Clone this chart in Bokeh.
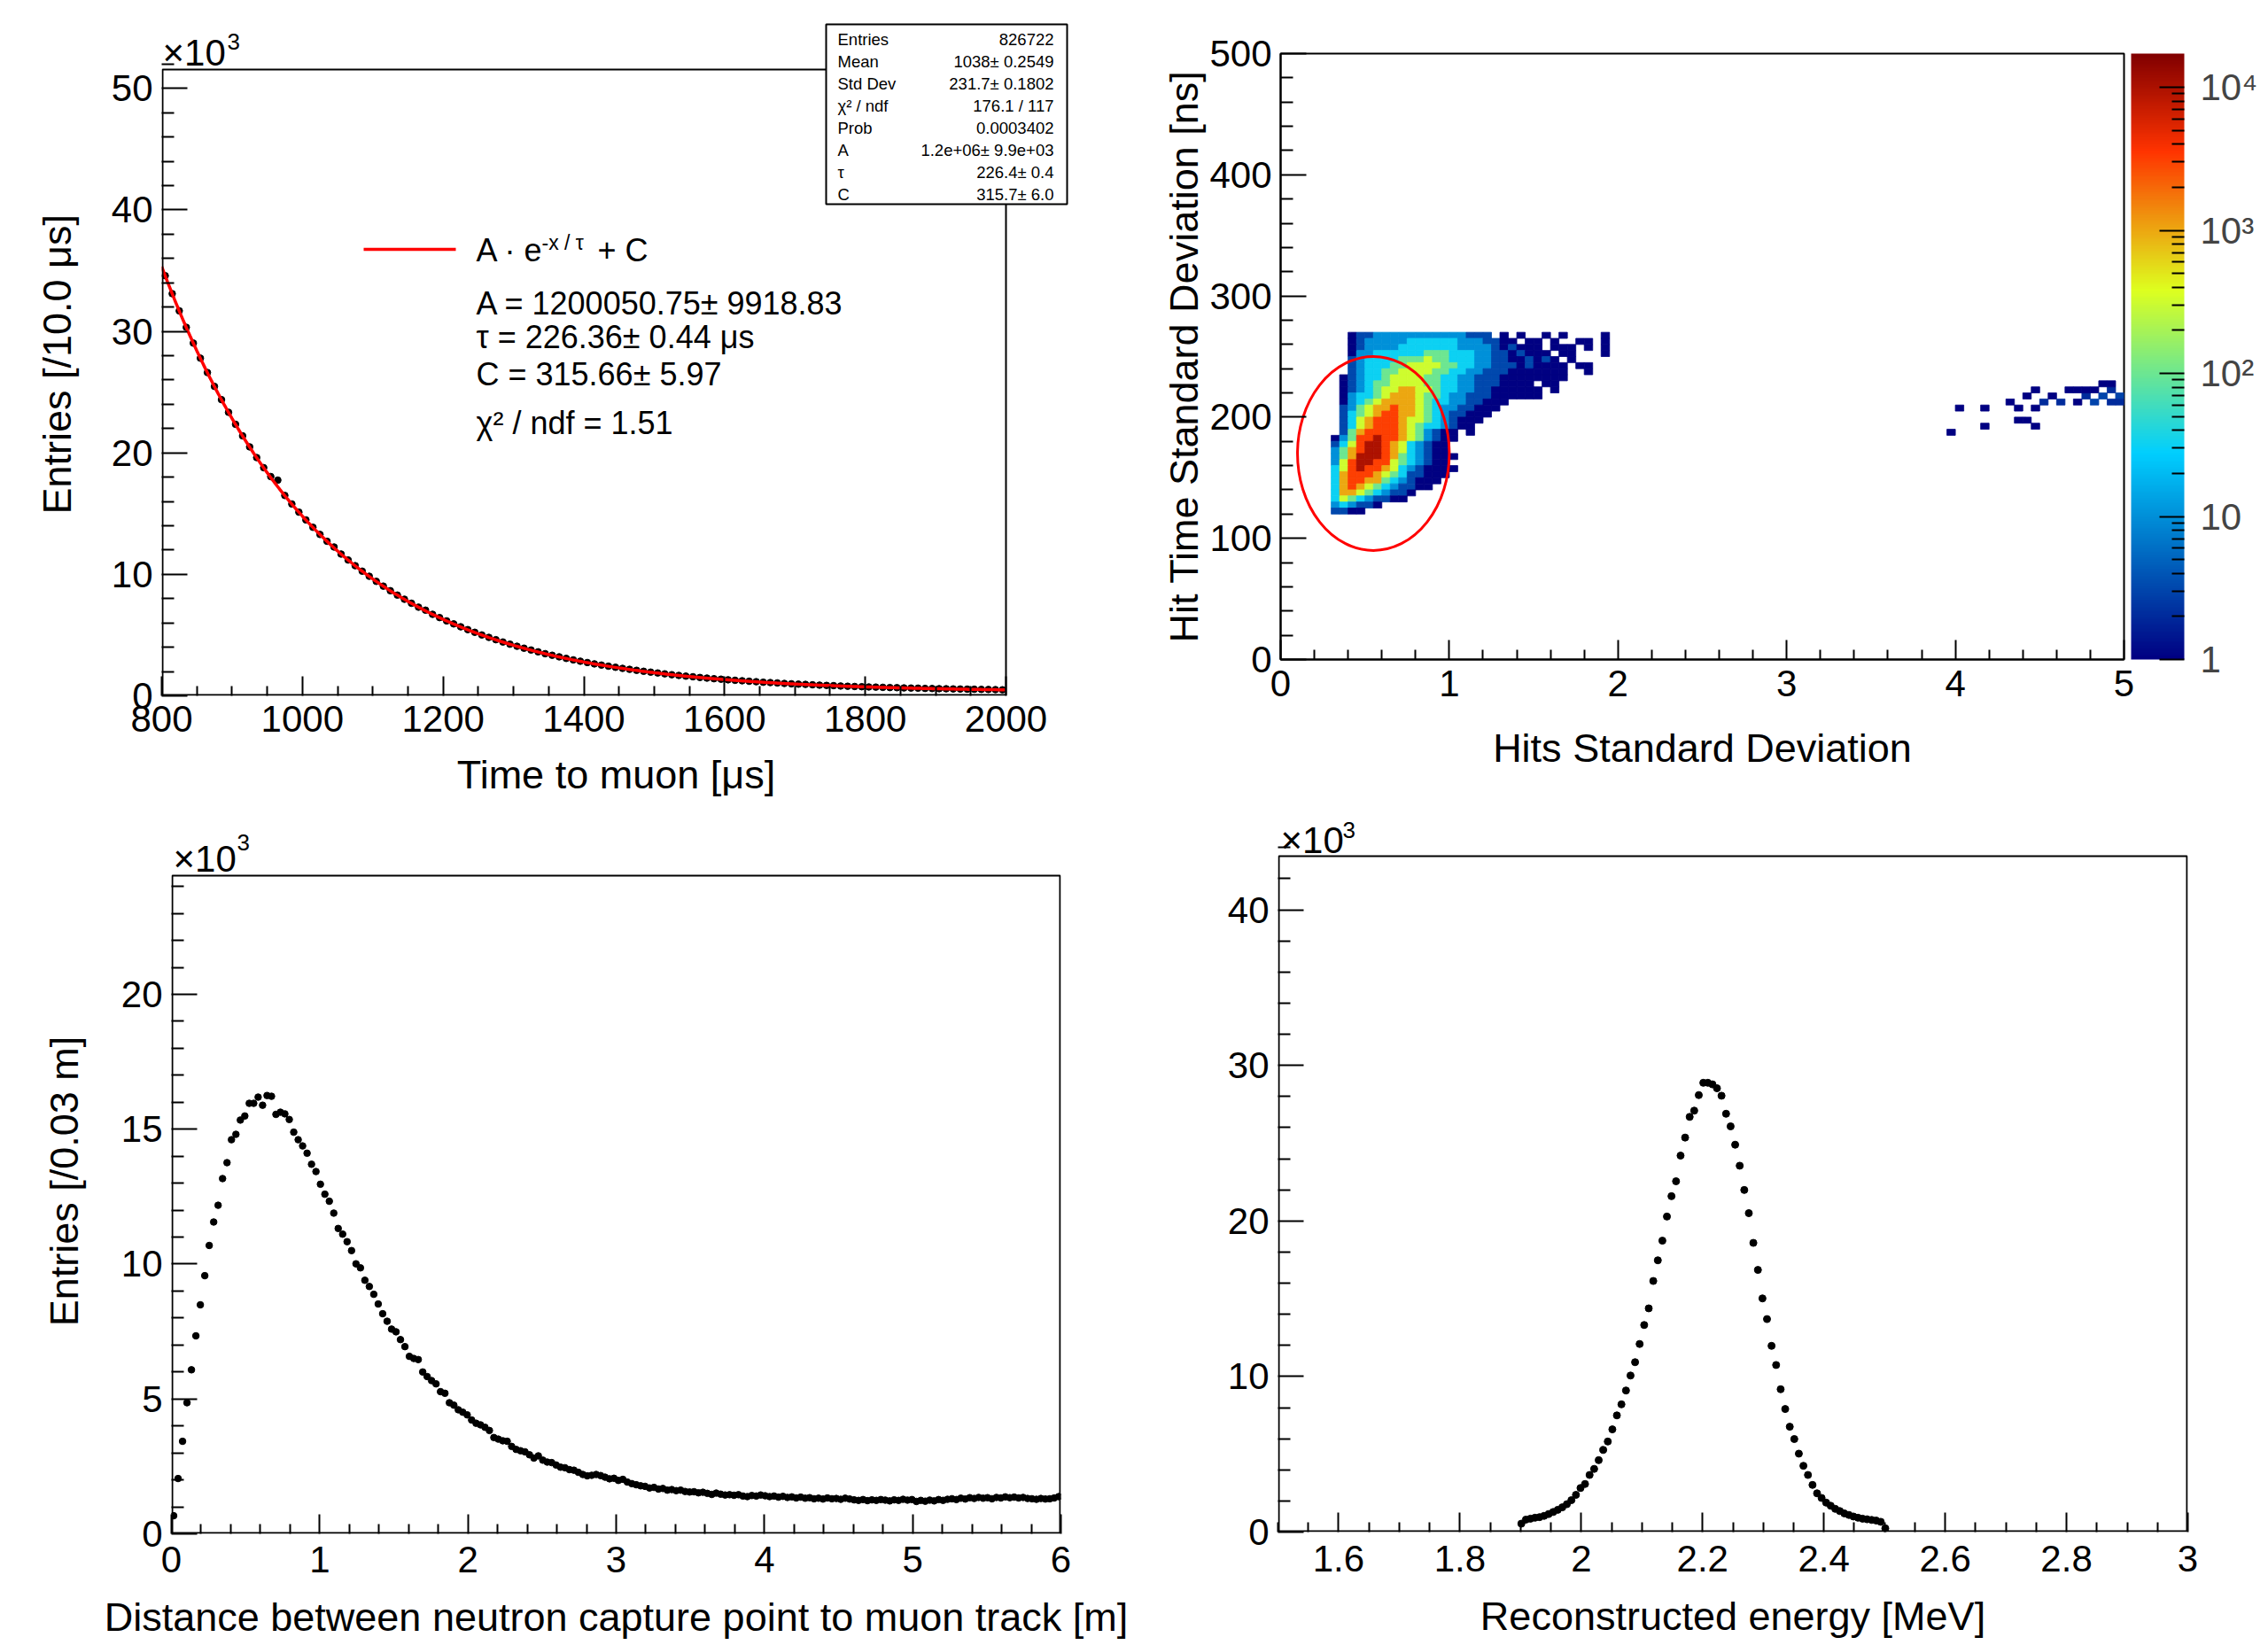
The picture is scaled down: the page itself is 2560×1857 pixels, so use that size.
import numpy as np
from bokeh.plotting import figure
from bokeh.layouts import row, column
from bokeh.models import (Label, BoxAnnotation, Arrow, ColumnDataSource, LogColorMapper,
                          ColorBar, FixedTicker, Range1d, CustomJSTickFormatter)
from bokeh.embed import file_html
from bokeh.resources import INLINE

FONT = "Liberation Sans"

# ====================== DATA ======================
# Panel 1: time to muon (10 us bins from 800 to 2000 us), entries in thousands
time_range = (800.0, 2000.0)
time_bin = 10.0
time_counts_k = [
    34.58, 33.10, 31.69, 30.33, 29.03, 27.79, 26.61, 25.47, 24.38, 23.34,
    22.35, 21.40, 20.49, 19.61, 18.78, 18.05, 17.75, 16.49, 15.79, 15.12,
    14.48, 13.87, 13.28, 12.72, 12.25, 11.67, 11.18, 10.71, 10.26, 9.84,
    9.42, 9.03, 8.65, 8.29, 7.95, 7.62, 7.30, 7.05, 6.71, 6.44,
    6.17, 5.92, 5.68, 5.45, 5.23, 5.01, 4.81, 4.62, 4.43, 4.25,
    4.08, 3.92, 3.77, 3.62, 3.47, 3.34, 3.21, 3.08, 2.96, 2.85,
    2.74, 2.63, 2.53, 2.44, 2.35, 2.26, 2.18, 2.10, 2.02, 1.95,
    1.88, 1.81, 1.74, 1.68, 1.62, 1.57, 1.51, 1.46, 1.41, 1.37,
    1.32, 1.28, 1.24, 1.20, 1.16, 1.12, 1.09, 1.06, 1.02, 0.99,
    0.96, 0.94, 0.91, 0.88, 0.86, 0.84, 0.81, 0.79, 0.77, 0.75,
    0.73, 0.72, 0.70, 0.68, 0.67, 0.65, 0.64, 0.63, 0.61, 0.60,
    0.59, 0.58, 0.57, 0.56, 0.55, 0.54, 0.53, 0.52, 0.51, 0.50,
]
fit_A = 1200050.75
fit_tau = 226.36
fit_C = 315.66
stats_names = ["Entries", "Mean", "Std Dev", "χ² / ndf", "Prob", "A", "τ", "C"]
stats_values = ["826722", "1038± 0.2549", "231.7± 0.1802", "176.1 / 117", "0.0003402",
                "1.2e+06± 9.9e+03", "226.4± 0.4", "315.7± 6.0"]
legend_lines = ["A = 1200050.75± 9918.83", "τ = 226.36± 0.44 μs", "C = 315.66± 5.97", "χ² / ndf = 1.51"]

# Panel 2: 2D histogram, hits std dev vs hit time std dev
# grid of log-levels: '.' empty, digit d -> count 10**((d-1)/2)
grid_x0 = 0.25
grid_dx = 0.05
grid_ytop = 270.0
grid_dy = 5.0
hit_grid_rows = [
    "...12233333333333222.1.1..1.1....1.",
    "...12333334444443332211.11.1..11.1.",
    "...12333344444443333212111.111.1.1.",
    "...133444444555444332212111.11...1.",
    "...2344445556554443322112121.1.....",
    "...23444556666554433222121111.11...",
    "...23445566665544332221111111..1...",
    "..123445666655443322211111111......",
    "..12345566665544332221111.11.......",
    "..123456677665443322111111.1.......",
    "..134456777655433222111111",
    "..13456777765443322111",
    "..2356778776543322111",
    "..245678877654322111",
    "..24678887665432111",
    "..2467888765443211",
    "..25788887653211.1",
    ".135889887653211",
    ".24689987643211",
    ".35789987643211",
    ".357999875432111",
    ".36899886543211",
    ".468988764321111",
    ".47888765422111",
    ".4788775432111",
    ".478765432211",
    ".4776543221",
    ".465432211",
    ".343221",
    ".2211",
]
cluster_x = [3.975, 4.025, 4.175, 4.175, 4.325, 4.375, 4.375, 4.425, 4.425, 4.475, 4.475, 4.475,
             4.525, 4.575, 4.625, 4.675, 4.725, 4.725, 4.775, 4.775, 4.825, 4.825, 4.875, 4.875,
             4.925, 4.925, 4.925, 4.975, 4.975]
cluster_y = [187.5, 207.5, 192.5, 207.5, 212.5, 207.5, 197.5, 217.5, 197.5, 192.5, 222.5, 207.5,
             212.5, 217.5, 212.5, 222.5, 222.5, 212.5, 217.5, 222.5, 212.5, 222.5, 217.5, 227.5,
             212.5, 222.5, 227.5, 217.5, 212.5]
cluster_n = [1, 1, 1, 1, 1, 1, 1, 1, 1, 1, 1, 1,
             2, 1, 2, 1, 1, 1, 2, 1, 3, 1, 3, 1,
             2, 2, 1, 3, 2]
z_max = 17200.0
ellipse_x, ellipse_y, ellipse_w, ellipse_h = 0.55, 170.0, 0.9, 160.0

# Panel 3: distance to muon track (0.03 m bins, 0-6 m), entries in thousands
dist_range = (0.0, 6.0)
dist_bin = 0.03
dist_counts_k = [
    0.67, 2.05, 3.43, 4.86, 6.08, 7.34, 8.49, 9.57, 10.69, 11.56,
    12.18, 13.17, 13.76, 14.61, 14.81, 15.34, 15.49, 15.96, 15.96, 16.19,
    15.89, 16.25, 16.22, 15.55, 15.63, 15.57, 15.36, 14.89, 14.61, 14.38,
    14.11, 13.70, 13.43, 12.96, 12.59, 12.33, 11.89, 11.32, 11.11, 10.83,
    10.50, 10.01, 9.86, 9.40, 9.17, 8.88, 8.52, 8.16, 7.88, 7.59,
    7.49, 7.20, 6.94, 6.58, 6.50, 6.46, 6.00, 5.83, 5.68, 5.56,
    5.27, 5.21, 4.86, 4.77, 4.60, 4.51, 4.41, 4.22, 4.10, 4.04,
    3.95, 3.83, 3.57, 3.51, 3.45, 3.43, 3.24, 3.13, 3.08, 3.04,
    2.93, 2.81, 2.89, 2.73, 2.66, 2.64, 2.55, 2.47, 2.45, 2.38,
    2.36, 2.28, 2.20, 2.15, 2.17, 2.20, 2.16, 2.10, 2.04, 2.06,
    1.98, 2.02, 1.92, 1.86, 1.82, 1.78, 1.76, 1.70, 1.72, 1.66,
    1.68, 1.62, 1.64, 1.60, 1.62, 1.57, 1.55, 1.56, 1.52, 1.54,
    1.50, 1.46, 1.51, 1.47, 1.44, 1.45, 1.43, 1.45, 1.40, 1.38,
    1.42, 1.40, 1.44, 1.41, 1.38, 1.40, 1.36, 1.39, 1.35, 1.37,
    1.33, 1.36, 1.32, 1.34, 1.30, 1.32, 1.29, 1.33, 1.30, 1.31,
    1.28, 1.32, 1.29, 1.26, 1.24, 1.27, 1.23, 1.26, 1.24, 1.27,
    1.25, 1.22, 1.26, 1.24, 1.28, 1.25, 1.27, 1.20, 1.24, 1.21,
    1.25, 1.22, 1.27, 1.24, 1.28, 1.30, 1.27, 1.32, 1.29, 1.34,
    1.31, 1.35, 1.32, 1.34, 1.30, 1.35, 1.33, 1.37, 1.34, 1.36,
    1.33, 1.35, 1.31, 1.30, 1.28, 1.31, 1.29, 1.30, 1.33, 1.38,
]

# Panel 4: reconstructed energy (0.0075 MeV bins in 1.5-3 MeV), filled bins 53..133, thousands
energy_range = (1.5, 3.0)
energy_bin = 0.0075
energy_first_bin = 53
energy_counts_k = [
    0.54, 0.80, 0.86, 0.92, 0.96, 1.04, 1.16, 1.29, 1.43, 1.59,
    1.79, 2.05, 2.39, 2.83, 3.09, 3.67, 4.06, 4.62, 5.28, 5.82,
    6.60, 7.50, 8.21, 9.10, 10.06, 10.92, 12.09, 13.31, 14.38, 16.14,
    17.47, 18.73, 20.28, 21.59, 22.55, 24.20, 25.36, 26.69, 27.09, 28.09,
    28.88, 28.88, 28.78, 28.53, 28.05, 26.89, 26.08, 24.90, 23.55, 21.99,
    20.50, 18.59, 16.85, 15.02, 13.69, 11.97, 10.74, 9.18, 7.91, 6.77,
    5.98, 5.04, 4.26, 3.67, 3.03, 2.49, 2.19, 1.89, 1.69, 1.49,
    1.35, 1.20, 1.10, 1.00, 0.92, 0.86, 0.82, 0.78, 0.74, 0.66,
    0.24,
]

# tick specs
p1_xticks, p1_xstep = [800, 1000, 1200, 1400, 1600, 1800, 2000], 50
p1_yticks, p1_ystep = [0, 10, 20, 30, 40, 50], 2
p2_xticks, p2_xstep = [0, 1, 2, 3, 4, 5], 0.2
p2_yticks, p2_ystep = [0, 100, 200, 300, 400, 500], 20
p3_xticks, p3_xstep = [0, 1, 2, 3, 4, 5, 6], 0.2
p3_yticks, p3_ystep = [0, 5, 10, 15, 20], 1
p4_xticks, p4_xstep = [1.6, 1.8, 2.0, 2.2, 2.4, 2.6, 2.8, 3.0], 0.05
p4_yticks, p4_ystep = [0, 10, 20, 30, 40], 2

# ====================== LAYOUT GEOMETRY (page px) ======================
LW, RW = 1300, 1256
TH, BH = 920, 934
# real frame: left, right, top, bottom, x0, x1, y0, y1
G1 = (182, 1135, 78, 785, 800.0, 2000.0, 0.0, 51.55)
G2 = (1445, 2397, 60, 744, 0.0, 5.0, 0.0, 500.0)
G3 = (193, 1197, 988, 1731, 0.0, 6.0, 0.0, 24.4)
G4 = (1442, 2469, 966, 1729, 1.5, 3.0, 0.0, 43.45)
# drawing area (outer) in page px
O1 = (182, 1208, 24, 785)
O2 = (1445, 2397, 60, 744)
O3 = (193, 1197, 935, 1731)
O4 = (1442, 2469, 925, 1729)


def mapper_for(g):
    L, R, T, B, x0, x1, y0, y1 = g

    def f(px, py):
        return (x0 + (px - L) / (R - L) * (x1 - x0), y0 + (B - py) / (B - T) * (y1 - y0))
    return f


def minor_list(lo, hi, step, majors):
    n = int(round((hi - lo) / step))
    out = []
    for k in range(n + 1):
        v = round(lo + k * step, 6)
        if all(abs(v - mj) > 1e-9 for mj in majors):
            out.append(v)
    return out


def make_fig(G, O, fx, fy, fw, fh, xt, xs, yt, ys, own_frame):
    L, R, T, B, x0, x1, y0, y1 = G
    OL, OR, OT, OB = O
    m = mapper_for(G)
    ox0, oy0 = m(OL, OB)
    ox1, oy1 = m(OR, OT)
    p = figure(width=fw, height=fh, x_range=Range1d(ox0, ox1), y_range=Range1d(oy0, oy1),
               output_backend="svg", toolbar_location=None, tools="", title=None,
               min_border_left=OL - fx, min_border_right=fx + fw - OR,
               min_border_top=OT - fy, min_border_bottom=fy + fh - OB)
    try:
        p.frame_align = False
    except Exception:
        pass
    p.grid.visible = False
    p.background_fill_color = "white"
    p.border_fill_color = "white"
    for ax in (p.xaxis[0], p.yaxis[0]):
        ax.axis_line_width = 2
        ax.axis_line_color = "black" if not own_frame else None
        ax.major_tick_out = 0
        ax.minor_tick_out = 0
        ax.major_tick_line_width = 2
        ax.minor_tick_line_width = 2
        ax.major_tick_line_color = "black"
        ax.minor_tick_line_color = "black"
        ax.major_label_text_font = FONT
        ax.major_label_text_font_size = "42px"
        ax.major_label_text_color = "black"
        ax.axis_label_text_font = FONT
        ax.axis_label_text_font_size = "45px"
        ax.axis_label_text_font_style = "normal"
        ax.axis_label_text_color = "black"
    p.xaxis[0].ticker = FixedTicker(ticks=xt, minor_ticks=minor_list(x0, x1, xs, xt))
    p.yaxis[0].ticker = FixedTicker(ticks=yt, minor_ticks=minor_list(y0, y1, ys, yt))
    p.xaxis[0].major_tick_in = 22
    p.xaxis[0].minor_tick_in = 11
    p.yaxis[0].major_tick_in = 29
    p.yaxis[0].minor_tick_in = 14
    p.yaxis[0].major_label_standoff = 10
    if own_frame:
        p.outline_line_color = None
        dx = (x1 - x0) / (R - L)
        dy = (y1 - y0) / (B - T)
        bl = x0 + (dx if OL == L else 0)
        br = x1 - (dx if OR == R else 0)
        bb = y0 + (dy if OB == B else 0)
        bt = y1 - (dy if OT == T else 0)
        p.add_layout(BoxAnnotation(left=bl, right=br, bottom=bb, top=bt, fill_alpha=0,
                                   fill_color=None, line_color="black", line_alpha=1.0,
                                   line_width=2))
    else:
        p.outline_line_color = "black"
        p.outline_line_width = 2
        p.outline_line_alpha = 1.0
    return p


def label(p, m, px, py_base, text, size, align="left"):
    # py_base is the text baseline in page px; place by the vertical middle
    x, y = m(px, py_base - 0.35 * size)
    p.add_layout(Label(x=x, y=y, text=text, text_font=FONT, text_font_size=f"{size}px",
                       text_align=align, text_baseline="middle", text_color="black"))


def label_mid(p, m, px, py_mid, text, size, align="left"):
    x, y = m(px, py_mid)
    p.add_layout(Label(x=x, y=y, text=text, text_font=FONT, text_font_size=f"{size}px",
                       text_align=align, text_baseline="middle", text_color="black"))


# ====================== PANEL 1 ======================
m1 = mapper_for(G1)
p1 = make_fig(G1, O1, 0, 0, LW, TH, p1_xticks, p1_xstep, p1_yticks, p1_ystep, True)
p1.xaxis[0].axis_label = "Time to muon [μs]"
p1.yaxis[0].axis_label = "Entries [/10.0  μs]"
p1.xaxis[0].major_label_standoff = 11
p1.xaxis[0].axis_label_standoff = 20
p1.yaxis[0].axis_label_standoff = 33

t_centers = time_range[0] + time_bin * (np.arange(len(time_counts_k)) + 0.5)
p1.scatter(t_centers, time_counts_k, size=7.5, color="black", marker="circle")
xf = np.linspace(time_range[0], time_range[1], 600)
p1.line(xf, (fit_A * np.exp(-xf / fit_tau) + fit_C) / 1000.0, line_color="red", line_width=3.5)

label(p1, m1, 183, 74, "×10", 42)
label(p1, m1, 256, 56, "3", 26)

# stats box
sbl, sbt = m1(932, 27)
sbr, sbb = m1(1204, 230)
p1.add_layout(BoxAnnotation(left=sbl, right=sbr, top=sbt, bottom=sbb, fill_color="white", fill_alpha=1.0,
                            line_color="black", line_alpha=1.0, line_width=2))
for i, (nm, val) in enumerate(zip(stats_names, stats_values)):
    yy = 43.5 + 25 * i
    label_mid(p1, m1, 945, yy, nm, 18.5)
    label_mid(p1, m1, 1189, yy, val, 18.5, align="right")

# legend
lx0, ly0 = m1(410, 281)
lx1, ly1 = m1(514, 281)
p1.add_layout(Arrow(end=None, x_start=lx0, y_start=ly0, x_end=lx1, y_end=ly1,
                    line_color="red", line_width=3.5))
label(p1, m1, 537, 295, "A · e", 36)
label(p1, m1, 611, 282, "-x / τ", 23)
label(p1, m1, 674, 295, "+ C", 36)
for txt, by in zip(legend_lines, [355, 393, 435, 490]):
    label(p1, m1, 537, by, txt, 36)

# ====================== PANEL 2 ======================
p2 = make_fig(G2, O2, LW, 0, RW, TH, p2_xticks, p2_xstep, p2_yticks, p2_ystep, False)
p2.xaxis[0].axis_label = "Hits Standard Deviation"
p2.yaxis[0].axis_label = "Hit Time Standard Deviation [ns]"
p2.xaxis[0].major_label_standoff = 12
p2.xaxis[0].axis_label_standoff = 30
p2.yaxis[0].axis_label_standoff = 0

stops = [0.0, 0.34, 0.61, 0.84, 1.0]
reds = [0.0, 0.0, 0.87, 1.0, 0.51]
greens = [0.0, 0.81, 1.0, 0.2, 0.0]
blues = [0.51, 1.0, 0.12, 0.0, 0.0]
tt = np.linspace(0, 1, 255)
palette = ["#%02x%02x%02x" % (int(round(255 * np.interp(v, stops, reds))),
                              int(round(255 * np.interp(v, stops, greens))),
                              int(round(255 * np.interp(v, stops, blues)))) for v in tt]
cmap = LogColorMapper(palette=palette, low=1, high=z_max)

hx, hy, hc = [], [], []
for r, rs in enumerate(hit_grid_rows):
    for c, ch in enumerate(rs):
        if ch != ".":
            hx.append(grid_x0 + (c + 0.5) * grid_dx)
            hy.append(grid_ytop - (r + 0.5) * grid_dy)
            hc.append(10 ** ((int(ch) - 1) * 0.5))
hx += cluster_x
hy += cluster_y
hc += [float(v) for v in cluster_n]
src2 = ColumnDataSource(dict(x=hx, y=hy, c=hc))
p2.rect(x="x", y="y", width=grid_dx, height=grid_dy, source=src2,
        fill_color={"field": "c", "transform": cmap},
        line_color={"field": "c", "transform": cmap}, line_width=0.8)
p2.ellipse(x=[ellipse_x], y=[ellipse_y], width=[ellipse_w], height=[ellipse_h],
           fill_color=None, line_color="red", line_width=3)

cb_fmt = CustomJSTickFormatter(code="""
const e = Math.round(Math.log10(tick));
const sup = {2: '\u00b2', 3: '\u00b3', 4: '\u2074'};
if (e <= 0) return '1';
if (e == 1) return '10';
return '10' + sup[e];
""")
minor_cb = [k * 10 ** d for d in range(0, 4) for k in range(2, 10)]
cbar = ColorBar(color_mapper=cmap, ticker=FixedTicker(ticks=[1, 10, 100, 1000, 10000], minor_ticks=minor_cb),
                formatter=cb_fmt, width=60, height=G2[3] - G2[2], padding=0, margin=0,
                location=(8, 0), major_label_text_font=FONT, major_label_text_font_size="42px",
                label_standoff=18, major_tick_in=28, major_tick_out=0,
                minor_tick_in=14, minor_tick_out=0,
                major_tick_line_color="black", minor_tick_line_color="black",
                major_tick_line_width=2, minor_tick_line_width=2,
                bar_line_color=None, border_line_color=None, background_fill_color=None)
p2.add_layout(cbar, "right")

# ====================== PANEL 3 ======================
m3 = mapper_for(G3)
p3 = make_fig(G3, O3, 0, TH, LW, BH, p3_xticks, p3_xstep, p3_yticks, p3_ystep, True)
p3.xaxis[0].axis_label = "Distance between neutron capture point to muon track [m]"
p3.yaxis[0].axis_label = "Entries [/0.03 m]"
p3.xaxis[0].major_label_standoff = 14
p3.xaxis[0].axis_label_standoff = 22
p3.yaxis[0].axis_label_standoff = 36
d_centers = dist_range[0] + dist_bin * (np.arange(len(dist_counts_k)) + 0.5)
p3.scatter(d_centers, dist_counts_k, size=7.5, color="black", marker="circle")
label(p3, m3, 195, 984, "×10", 42)
label(p3, m3, 267, 960, "3", 26)

# ====================== PANEL 4 ======================
m4 = mapper_for(G4)
p4 = make_fig(G4, O4, LW, TH, RW, BH, p4_xticks, p4_xstep, p4_yticks, p4_ystep, True)
p4.xaxis[0].formatter = CustomJSTickFormatter(
    code="return Math.abs(tick - Math.round(tick)) < 1e-6 ? tick.toFixed(0) : tick.toFixed(1);")
p4.xaxis[0].axis_label = "Reconstructed energy [MeV]"
p4.xaxis[0].major_label_standoff = 15
p4.xaxis[0].axis_label_standoff = 22
e_centers = energy_range[0] + energy_bin * (np.arange(len(energy_counts_k)) + energy_first_bin + 0.5)
p4.scatter(e_centers, energy_counts_k, size=8, color="black", marker="circle")
label(p4, m4, 1445, 963, "×10", 42)
label(p4, m4, 1515, 946, "3", 26)

layout = row(column(p1, p3), column(p2, p4))
open("out.html", "w").write(file_html(layout, INLINE))
